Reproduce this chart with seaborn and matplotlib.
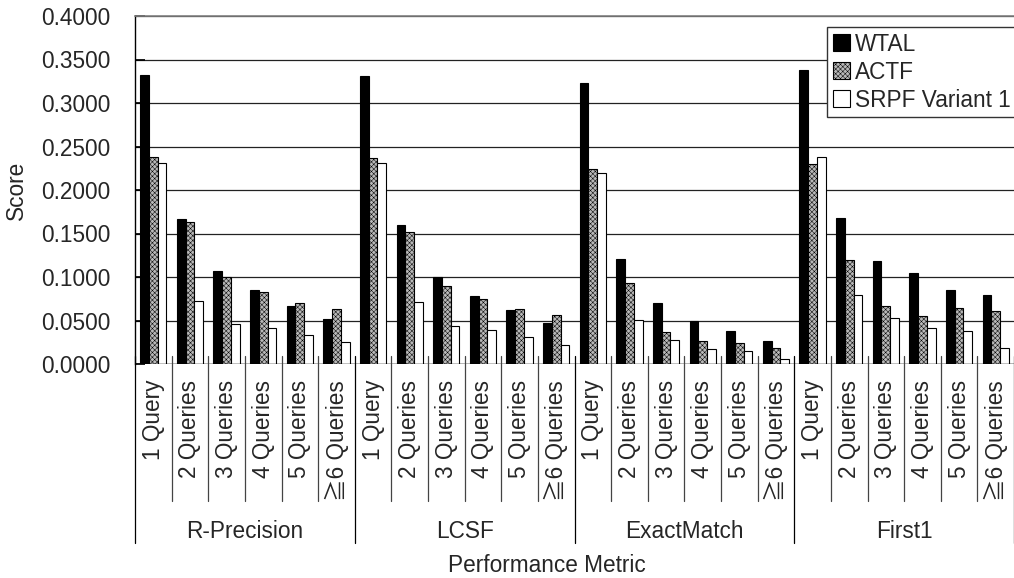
import numpy as np
import pandas as pd
import matplotlib
matplotlib.use("Agg")
import matplotlib.pyplot as plt
import matplotlib.transforms as mtransforms
from matplotlib.patches import Patch
import seaborn as sns

# ---------------- data ----------------
metrics = ["R-Precision", "LCSF", "ExactMatch", "First1"]
queries = ["1 Query", "2 Queries", "3 Queries", "4 Queries", "5 Queries", "\u22676 Queries"]
series = ["WTAL", "ACTF", "SRPF Variant 1"]

wtal = [0.3318, 0.1667, 0.1065, 0.0854, 0.0667, 0.0521,
        0.3310, 0.1602, 0.1004, 0.0785, 0.0617, 0.0475,
        0.3230, 0.1211, 0.0705, 0.0490, 0.0375, 0.0264,
        0.3383, 0.1682, 0.1188, 0.1046, 0.0847, 0.0789]
actf = [0.2379, 0.1636, 0.0996, 0.0831, 0.0705, 0.0628,
        0.2368, 0.1517, 0.0893, 0.0751, 0.0628, 0.0563,
        0.2238, 0.0935, 0.0364, 0.0268, 0.0241, 0.0180,
        0.2295, 0.1199, 0.0667, 0.0548, 0.0648, 0.0605]
srpf = [0.2310, 0.0720, 0.0460, 0.0418, 0.0330, 0.0249,
        0.2310, 0.0709, 0.0441, 0.0391, 0.0314, 0.0215,
        0.2199, 0.0510, 0.0276, 0.0172, 0.0146, 0.0057,
        0.2379, 0.0789, 0.0533, 0.0410, 0.0379, 0.0188]

y_ticks = [0.0, 0.05, 0.10, 0.15, 0.20, 0.25, 0.30, 0.35, 0.40]

# ---------------- table ----------------
cats = [f"{m}|{q}" for m in metrics for q in queries]
rows = []
for s, vals in zip(series, [wtal, actf, srpf]):
    for c, v in zip(cats, vals):
        rows.append({"cat": c, "series": s, "score": v})
df = pd.DataFrame(rows)

sns.set_theme(style="white")
plt.rcParams["font.family"] = ["Liberation Sans", "Noto Sans CJK JP", "DejaVu Sans"]
plt.rcParams["hatch.linewidth"] = 0.35

W, H = 1014, 578
fig = plt.figure(figsize=(W / 100, H / 100), dpi=100)
left_px, right_px, top_px, bot_px = 135, 1014, 16, 364
ax = fig.add_axes([left_px / W, 1 - bot_px / H, (right_px - left_px) / W, (bot_px - top_px) / H])

FS = 16.3
ACTF_FACE = "#b8b8b8"
palette = {"WTAL": "black", "ACTF": ACTF_FACE, "SRPF Variant 1": "white"}
sns.barplot(data=df, x="cat", y="score", hue="series", order=cats, hue_order=series,
            palette=palette, saturation=1, width=0.72, edgecolor="black",
            linewidth=0.8, ax=ax, legend=False, zorder=3)

n = len(cats)
for p in ax.patches[n:2 * n]:
    p.set_hatch("xxxxxxx")

ax.set_xlim(-0.5, n - 0.5)
ax.set_ylim(0, 0.4)
ax.set_yticks(y_ticks)
ax.set_yticklabels([f"{t:.4f}" for t in y_ticks], fontsize=FS)
ax.yaxis.grid(True, color="#222222", linewidth=0.9, zorder=0)
ax.set_axisbelow(True)
ax.tick_params(axis="y", direction="in", length=7, pad=18, color="black", left=True)

# x tick labels
ax.set_xticks(range(n))
ax.set_xticklabels([q for m in metrics for q in queries], rotation=90, fontsize=FS,
                   va="top", ha="center")
ax.tick_params(axis="x", length=0, pad=11.5)
ax.set_xlabel("")
ax.set_ylabel("")

for side in ["right", "bottom"]:
    ax.spines[side].set_visible(False)
ax.spines["left"].set_color("black")
ax.spines["left"].set_linewidth(1)
ax.spines["top"].set_color("#808080")
ax.spines["top"].set_linewidth(1.2)
ax.axhline(0, color="black", linewidth=1, zorder=4)

# hierarchical category separators
trans = mtransforms.blended_transform_factory(ax.transData, ax.transAxes)
ah = bot_px - top_px
y_in = 8 / ah
y_cat = -(501 - bot_px) / ah
y_grp = -(543 - bot_px) / ah
for i in range(n + 1):
    x = i - 0.5
    if i % len(queries) == 0:
        ax.plot([x, x], [y_in, y_grp], transform=trans, color="black", lw=0.9, clip_on=False, zorder=5)
    else:
        ax.plot([x, x], [y_in, y_cat], transform=trans, color="#444444", lw=0.9, clip_on=False, zorder=5)

for gi, m in enumerate(metrics):
    xc = gi * len(queries) + (len(queries) - 1) / 2
    ax.text(xc, -(531 - bot_px) / ah, m, transform=trans, ha="center", va="center", fontsize=FS)

fig.text(547 / W, 1 - 566 / H, "Performance Metric", ha="center", va="center", fontsize=FS)
fig.text(16 / W, 1 - 190 / H, "Score", ha="center", va="center", rotation=90, fontsize=FS)

handles = [Patch(facecolor="black", edgecolor="black", lw=0.8),
           Patch(facecolor=ACTF_FACE, edgecolor="black", hatch="xxxxxxx", lw=0.8),
           Patch(facecolor="white", edgecolor="black", lw=0.8)]
leg = ax.legend(handles, series, loc="upper left", bbox_to_anchor=(827 / W, 1 - 27 / H),
                bbox_transform=fig.transFigure, fontsize=FS, frameon=True, fancybox=False,
                framealpha=1, edgecolor="#333333", handlelength=0.75, handleheight=0.75,
                handletextpad=0.25, labelspacing=0.22, borderpad=0.25, borderaxespad=0)
leg.get_frame().set_linewidth(1)
leg.set_zorder(10)

fig.savefig("out.png", dpi=100)
